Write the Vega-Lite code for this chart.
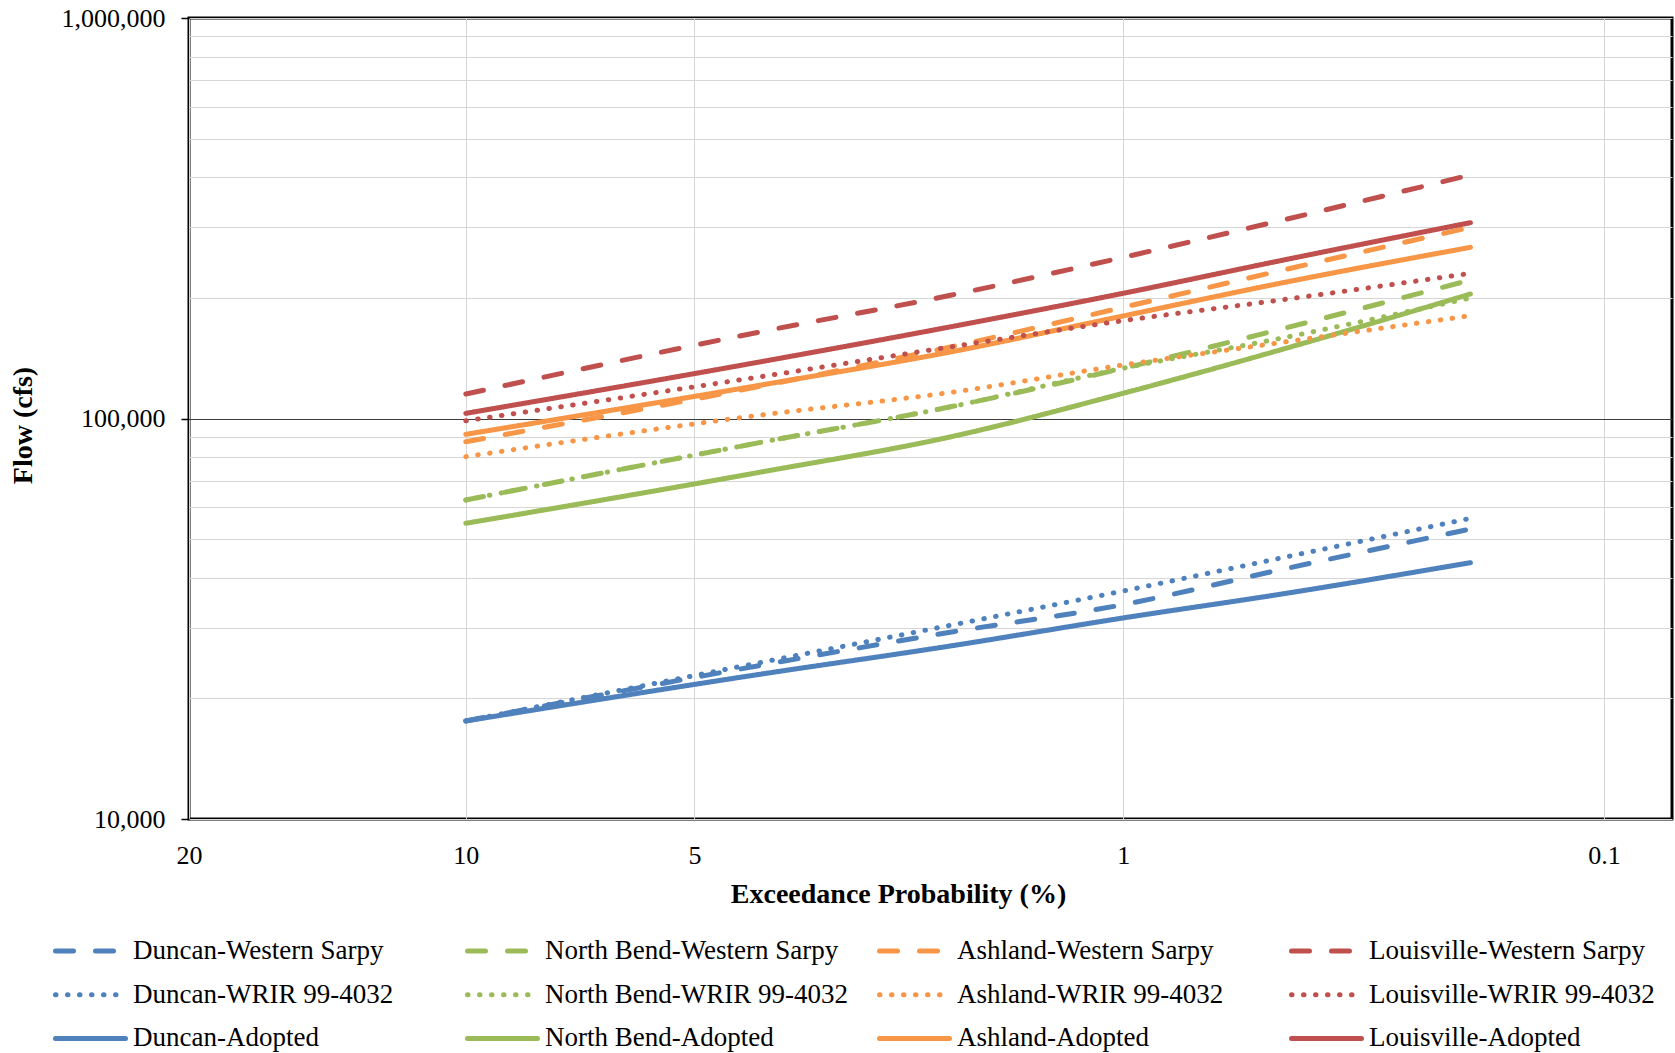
{
  "$schema": "https://vega.github.io/schema/vega-lite/v6.json",
  "width": 1483,
  "height": 801,
  "autosize": {"type": "none"},
  "padding": {"left": 189, "top": 18, "right": 3, "bottom": 234},
  "background": "white",
  "config": {
    "font": "Liberation Serif",
    "view": {"stroke": "black", "strokeWidth": 3}
  },
  "data": {
    "values": [
      {"series": "Duncan-Western Sarpy", "p": 10, "flow": 17570},
      {"series": "Duncan-Western Sarpy", "p": 4, "flow": 24200},
      {"series": "Duncan-Western Sarpy", "p": 2, "flow": 29300},
      {"series": "Duncan-Western Sarpy", "p": 1, "flow": 34300},
      {"series": "Duncan-Western Sarpy", "p": 0.5, "flow": 41900},
      {"series": "Duncan-Western Sarpy", "p": 0.2, "flow": 52970},
      {"series": "Duncan-WRIR 99-4032", "p": 10, "flow": 17570},
      {"series": "Duncan-WRIR 99-4032", "p": 4, "flow": 24600},
      {"series": "Duncan-WRIR 99-4032", "p": 2, "flow": 30500},
      {"series": "Duncan-WRIR 99-4032", "p": 1, "flow": 37100},
      {"series": "Duncan-WRIR 99-4032", "p": 0.5, "flow": 44800},
      {"series": "Duncan-WRIR 99-4032", "p": 0.2, "flow": 56330},
      {"series": "Duncan-Adopted", "p": 10, "flow": 17570},
      {"series": "Duncan-Adopted", "p": 4, "flow": 23000},
      {"series": "Duncan-Adopted", "p": 2, "flow": 27070},
      {"series": "Duncan-Adopted", "p": 1, "flow": 31770},
      {"series": "Duncan-Adopted", "p": 0.5, "flow": 36400},
      {"series": "Duncan-Adopted", "p": 0.2, "flow": 43650},
      {"series": "North Bend-Western Sarpy", "p": 10, "flow": 62600},
      {"series": "North Bend-Western Sarpy", "p": 4, "flow": 87200},
      {"series": "North Bend-Western Sarpy", "p": 2, "flow": 107100},
      {"series": "North Bend-Western Sarpy", "p": 1, "flow": 133500},
      {"series": "North Bend-Western Sarpy", "p": 0.5, "flow": 167000},
      {"series": "North Bend-Western Sarpy", "p": 0.2, "flow": 221700},
      {"series": "North Bend-WRIR 99-4032", "p": 10, "flow": 62600},
      {"series": "North Bend-WRIR 99-4032", "p": 4, "flow": 87200},
      {"series": "North Bend-WRIR 99-4032", "p": 2, "flow": 107100},
      {"series": "North Bend-WRIR 99-4032", "p": 1, "flow": 133500},
      {"series": "North Bend-WRIR 99-4032", "p": 0.5, "flow": 158500},
      {"series": "North Bend-WRIR 99-4032", "p": 0.2, "flow": 200000},
      {"series": "North Bend-Adopted", "p": 10, "flow": 54740},
      {"series": "North Bend-Adopted", "p": 4, "flow": 73500},
      {"series": "North Bend-Adopted", "p": 2, "flow": 90100},
      {"series": "North Bend-Adopted", "p": 1, "flow": 115600},
      {"series": "North Bend-Adopted", "p": 0.5, "flow": 148300},
      {"series": "North Bend-Adopted", "p": 0.2, "flow": 204600},
      {"series": "Ashland-Western Sarpy", "p": 10, "flow": 87500},
      {"series": "Ashland-Western Sarpy", "p": 4, "flow": 120500},
      {"series": "Ashland-Western Sarpy", "p": 2, "flow": 151100},
      {"series": "Ashland-Western Sarpy", "p": 1, "flow": 189500},
      {"series": "Ashland-Western Sarpy", "p": 0.5, "flow": 233900},
      {"series": "Ashland-Western Sarpy", "p": 0.2, "flow": 300200},
      {"series": "Ashland-WRIR 99-4032", "p": 10, "flow": 80300},
      {"series": "Ashland-WRIR 99-4032", "p": 4, "flow": 102000},
      {"series": "Ashland-WRIR 99-4032", "p": 2, "flow": 116300},
      {"series": "Ashland-WRIR 99-4032", "p": 1, "flow": 136000},
      {"series": "Ashland-WRIR 99-4032", "p": 0.5, "flow": 154700},
      {"series": "Ashland-WRIR 99-4032", "p": 0.2, "flow": 180600},
      {"series": "Ashland-Adopted", "p": 10, "flow": 91300},
      {"series": "Ashland-Adopted", "p": 4, "flow": 121200},
      {"series": "Ashland-Adopted", "p": 2, "flow": 146800},
      {"series": "Ashland-Adopted", "p": 1, "flow": 180300},
      {"series": "Ashland-Adopted", "p": 0.5, "flow": 217600},
      {"series": "Ashland-Adopted", "p": 0.2, "flow": 267500},
      {"series": "Louisville-Western Sarpy", "p": 10, "flow": 115100},
      {"series": "Louisville-Western Sarpy", "p": 4, "flow": 164700},
      {"series": "Louisville-Western Sarpy", "p": 2, "flow": 203400},
      {"series": "Louisville-Western Sarpy", "p": 1, "flow": 252600},
      {"series": "Louisville-Western Sarpy", "p": 0.5, "flow": 311900},
      {"series": "Louisville-Western Sarpy", "p": 0.2, "flow": 405500},
      {"series": "Louisville-WRIR 99-4032", "p": 10, "flow": 98700},
      {"series": "Louisville-WRIR 99-4032", "p": 4, "flow": 127200},
      {"series": "Louisville-WRIR 99-4032", "p": 2, "flow": 151100},
      {"series": "Louisville-WRIR 99-4032", "p": 1, "flow": 175500},
      {"series": "Louisville-WRIR 99-4032", "p": 0.5, "flow": 197600},
      {"series": "Louisville-WRIR 99-4032", "p": 0.2, "flow": 230400},
      {"series": "Louisville-Adopted", "p": 10, "flow": 103000},
      {"series": "Louisville-Adopted", "p": 4, "flow": 138600},
      {"series": "Louisville-Adopted", "p": 2, "flow": 169600},
      {"series": "Louisville-Adopted", "p": 1, "flow": 205400},
      {"series": "Louisville-Adopted", "p": 0.5, "flow": 247700},
      {"series": "Louisville-Adopted", "p": 0.2, "flow": 308300}
    ]
  },
  "transform": [{"calculate": "quantileNormal(1 - datum.p / 100)", "as": "z"}],
  "mark": {"type": "line", "strokeWidth": 5, "strokeCap": "round", "interpolate": "monotone"},
  "encoding": {
    "x": {
      "field": "z",
      "type": "quantitative",
      "scale": {"domain": [0.8416, 3.1985], "nice": false, "zero": false},
      "axis": {
        "title": "Exceedance Probability (%)",
        "values": [0.8416212, 1.2815516, 1.6448536, 2.3263479, 3.0902323],
        "labelExpr": "datum.value < 1 ? '20' : datum.value < 1.5 ? '10' : datum.value < 2 ? '5' : datum.value < 3 ? '1' : '0.1'",
        "ticks": false,
        "domain": false,
        "grid": true,
        "gridColor": "#d6d6d6",
        "gridWidth": 1,
        "labelFlush": false,
        "labelOverlap": false,
        "labelFontSize": 26,
        "labelColor": "black",
        "labelPadding": 23,
        "titleFontSize": 28,
        "titleFontWeight": "bold",
        "titleColor": "black",
        "titleX": 709,
        "titleY": 75,
        "titleBaseline": "middle"
      }
    },
    "y": {
      "field": "flow",
      "type": "quantitative",
      "scale": {"type": "log", "domain": [10000, 1000000], "nice": false},
      "axis": {
        "title": "Flow (cfs)",
        "values": [10000, 20000, 30000, 40000, 50000, 60000, 70000, 80000, 90000, 100000, 200000, 300000, 400000, 500000, 600000, 700000, 800000, 900000, 1000000],
        "labelExpr": "(datum.value == 10000 || datum.value == 100000 || datum.value == 1000000) ? format(datum.value, ',') : ''",
        "labelOverlap": false,
        "grid": true,
        "gridColor": {"condition": {"test": "datum.value == 100000", "value": "#3c3c3c"}, "value": "#d6d6d6"},
        "gridWidth": 1,
        "domain": false,
        "ticks": true,
        "tickSize": 8,
        "tickColor": "black",
        "tickWidth": 1.5,
        "tickOpacity": {"condition": {"test": "datum.value == 10000 || datum.value == 100000 || datum.value == 1000000", "value": 1}, "value": 0},
        "labelFontSize": 26,
        "labelColor": "black",
        "labelPadding": 16,
        "titleFontSize": 28,
        "titleFontWeight": "bold",
        "titleColor": "black",
        "titleX": -166,
        "titleY": 407,
        "titleBaseline": "middle"
      }
    },
    "color": {
      "field": "series",
      "type": "nominal",
      "scale": {
        "domain": ["Duncan-Western Sarpy", "Duncan-WRIR 99-4032", "Duncan-Adopted", "North Bend-Western Sarpy", "North Bend-WRIR 99-4032", "North Bend-Adopted", "Ashland-Western Sarpy", "Ashland-WRIR 99-4032", "Ashland-Adopted", "Louisville-Western Sarpy", "Louisville-WRIR 99-4032", "Louisville-Adopted"],
        "range": ["#4F81BD", "#4F81BD", "#4F81BD", "#9BBB59", "#9BBB59", "#9BBB59", "#F79646", "#F79646", "#F79646", "#C0504D", "#C0504D", "#C0504D"]
      },
      "legend": {
        "title": null,
        "orient": "none",
        "legendX": -136,
        "legendY": 920,
        "columns": 4,
        "gridAlign": "all",
        "columnPadding": 29,
        "rowPadding": 16.7,
        "clipHeight": 26,
        "padding": 0,
        "symbolType": "stroke",
        "symbolSize": 4900,
        "symbolStrokeWidth": 5,
        "labelFontSize": 27,
        "labelColor": "black",
        "labelOffset": 5,
        "labelLimit": 400,
        "encode": {"symbols": {"update": {"strokeCap": {"value": "round"}}}}
      }
    },
    "strokeDash": {
      "field": "series",
      "type": "nominal",
      "scale": {
        "domain": ["Duncan-Western Sarpy", "Duncan-WRIR 99-4032", "Duncan-Adopted", "North Bend-Western Sarpy", "North Bend-WRIR 99-4032", "North Bend-Adopted", "Ashland-Western Sarpy", "Ashland-WRIR 99-4032", "Ashland-Adopted", "Louisville-Western Sarpy", "Louisville-WRIR 99-4032", "Louisville-Adopted"],
        "range": [[18, 22], [0.5, 11.5], [1, 0], [18, 22], [0.5, 11.5], [1, 0], [18, 22], [0.5, 11.5], [1, 0], [18, 22], [0.5, 11.5], [1, 0]]
      },
      "legend": {
        "title": null,
        "orient": "none",
        "legendX": -136,
        "legendY": 920,
        "columns": 4,
        "gridAlign": "all",
        "columnPadding": 29,
        "rowPadding": 16.7,
        "clipHeight": 26,
        "padding": 0,
        "symbolType": "stroke",
        "symbolSize": 4900,
        "symbolStrokeWidth": 5,
        "labelFontSize": 27,
        "labelColor": "black",
        "labelOffset": 5,
        "labelLimit": 400,
        "encode": {"symbols": {"update": {"strokeCap": {"value": "round"}}}}
      }
    }
  }
}
